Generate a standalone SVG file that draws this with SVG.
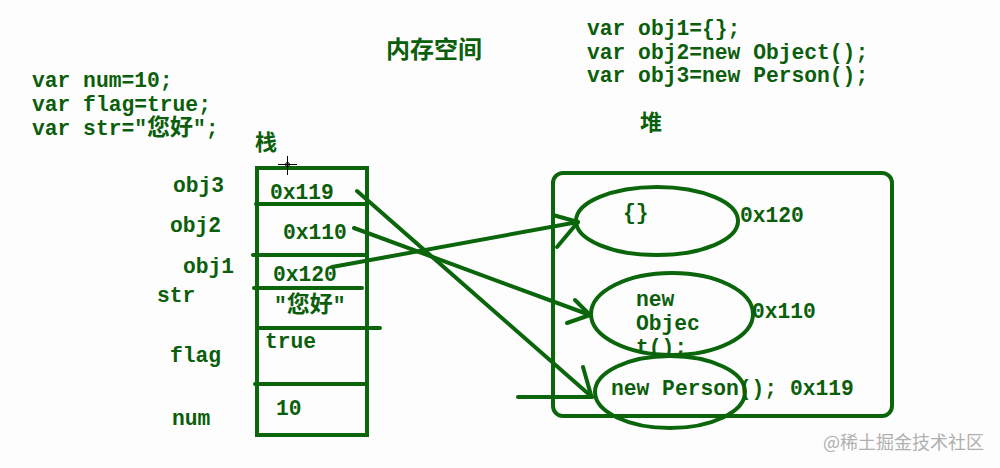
<svg xmlns="http://www.w3.org/2000/svg" width="1000" height="468" viewBox="0 0 1000 468">
<defs>
<style>
.t{font-family:"Liberation Mono","DejaVu Sans Mono","Noto Sans CJK SC",monospace;font-size:21.3px;font-weight:bold;fill:#0b5e0b}
.c{font-family:"Noto Sans CJK SC","Liberation Sans",sans-serif;font-weight:bold;fill:#0b5e0b}
.cj{font-family:"Noto Sans CJK SC",sans-serif;font-size:23px}
.ln{stroke:#0b660b;stroke-width:4;fill:none;stroke-linecap:round;stroke-linejoin:round}
.bx{stroke:#0b660b;stroke-width:4;fill:none}
.wm{font-family:"Noto Sans CJK SC","Liberation Sans",sans-serif;font-size:18px;fill:#b0b0b0}
</style>
<clipPath id="clipObj"><rect x="600" y="270" width="140" height="86"/></clipPath>
</defs>
<rect width="1000" height="468" fill="#fdfdfd"/>

<g id="title">
<text class="c" x="386" y="58" font-size="24">内存空间</text>
</g>

<g id="code-left">
<text class="t" x="32" y="87">var num=10;</text>
<text class="t" x="32" y="111">var flag=true;</text>
<text class="t" x="32" y="135">var str="<tspan class="cj">您好</tspan>";</text>
</g>

<g id="code-right">
<text class="t" x="587" y="35">var obj1={};</text>
<text class="t" x="587" y="59">var obj2=new Object();</text>
<text class="t" x="587" y="82">var obj3=new Person();</text>
</g>

<g id="stack">
<text class="c" x="255" y="150" font-size="22">栈</text>
<rect class="bx" x="257" y="168" width="110" height="267"/>
<line class="ln" x1="256" y1="204" x2="367" y2="204"/>
<line class="ln" x1="253" y1="255" x2="367" y2="255"/>
<line class="ln" x1="254" y1="288" x2="362" y2="288"/>
<line class="ln" x1="257" y1="328" x2="380" y2="328"/>
<line class="ln" x1="255" y1="384" x2="367" y2="384"/>
<text class="t" x="173" y="192">obj3</text>
<text class="t" x="170" y="232">obj2</text>
<text class="t" x="183" y="273">obj1</text>
<text class="t" x="157" y="302">str</text>
<text class="t" x="170" y="362">flag</text>
<text class="t" x="172" y="425">num</text>
<text class="t" x="270" y="199">0x119</text>
<text class="t" x="283" y="239">0x110</text>
<text class="t" x="273" y="281">0x120</text>
<text class="t" x="274" y="312">"<tspan class="cj">您好</tspan>"</text>
<text class="t" x="265" y="348">true</text>
<text class="t" x="276" y="415">10</text>
</g>

<g id="cursor" stroke="#000" stroke-width="1" fill="none">
<line x1="278" y1="164.5" x2="297" y2="164.5"/>
<line x1="287.5" y1="156" x2="287.5" y2="175"/>
<circle cx="287.5" cy="164.5" r="2"/>
</g>

<g id="heap">
<text class="c" x="640" y="130" font-size="22">堆</text>
<rect class="bx" x="553" y="173" width="339" height="243" rx="10"/>
</g>

<g id="obj-empty">
<ellipse class="bx" cx="657" cy="221" rx="81" ry="34"/>
<text class="t" x="623" y="219">{}</text>
<text class="t" x="740" y="222">0x120</text>
</g>

<g id="obj-object">
<ellipse class="bx" cx="672" cy="314" rx="81" ry="41"/>
<g clip-path="url(#clipObj)">
<text class="t" x="636" y="306">new</text>
<text class="t" x="636" y="330">Objec</text>
<text class="t" x="636" y="354">t();</text>
</g>
<text class="t" x="752" y="318">0x110</text>
</g>

<g id="obj-person">
<ellipse class="bx" cx="670" cy="392" rx="75" ry="36"/>
<text class="t" x="611" y="395">new Person(); 0x119</text>
</g>

<g id="connectors">
<polyline class="ln" points="332,267 578,222"/>
<polyline class="ln" points="553,215 578,222 557,247"/>
<polyline class="ln" points="354,228 590,315"/>
<polyline class="ln" points="575,300 590,315 567,323"/>
<polyline class="ln" points="357,191 592,397"/>
<polyline class="ln" points="583,367 591,395"/>
<polyline class="ln" points="518,397 592,397"/>
</g>

<text class="wm" x="823" y="449">@稀土掘金技术社区</text>
</svg>
